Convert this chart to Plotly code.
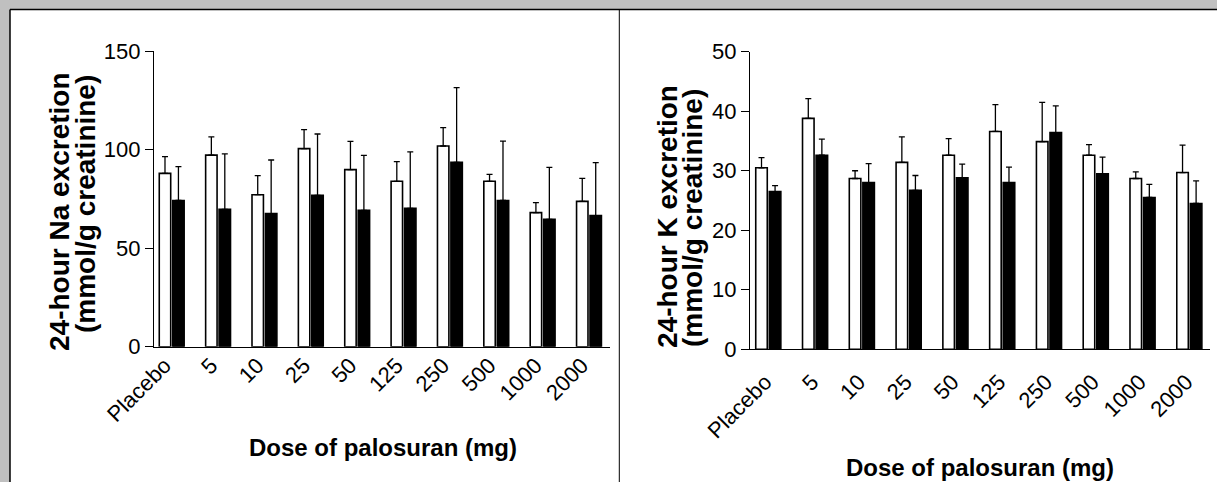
import plotly.graph_objects as go

doses = ["Placebo", "5", "10", "25", "50", "125", "250", "500", "1000", "2000"]

# Na excretion (mmol/g creatinine): open bars and filled bars, mean and upper error
na_open = [87.9, 97.2, 77.1, 100.5, 89.8, 83.9, 101.8, 83.9, 68.0, 73.7]
na_open_err_top = [96.4, 106.4, 86.8, 110.1, 104.2, 93.9, 111.1, 87.4, 73.1, 85.4]
na_filled = [74.2, 69.7, 67.5, 76.8, 69.2, 70.2, 93.5, 74.2, 64.6, 66.5]
na_filled_err_top = [91.3, 97.8, 94.7, 107.9, 97.1, 98.8, 131.4, 104.3, 91.0, 93.4]

# K excretion (mmol/g creatinine)
k_open = [30.5, 38.8, 28.7, 31.4, 32.6, 36.6, 34.9, 32.6, 28.7, 29.7]
k_open_err_top = [32.2, 42.1, 30.0, 35.7, 35.4, 41.1, 41.5, 34.4, 29.8, 34.3]
k_filled = [26.5, 32.6, 28.0, 26.7, 28.8, 28.0, 36.4, 29.5, 25.5, 24.5]
k_filled_err_top = [27.5, 35.3, 31.2, 29.2, 31.1, 30.6, 40.9, 32.3, 27.7, 28.3]

na_ticks = [0, 50, 100, 150]
k_ticks = [0, 10, 20, 30, 40, 50]

W, H = 1217, 482
FONT = "Liberation Sans, Arial, sans-serif"


def bar(vals, tops, fill, xa, ya):
    return go.Bar(
        x=doses, y=vals, xaxis=xa, yaxis=ya,
        marker=dict(color=fill, line=dict(color="black", width=1.6)),
        error_y=dict(type="data", symmetric=False,
                     array=[t - v for t, v in zip(tops, vals)],
                     arrayminus=[0] * len(vals),
                     color="black", thickness=1.3, width=3),
        showlegend=False,
    )


fig = go.Figure()
fig.add_trace(bar(na_open, na_open_err_top, "white", "x", "y"))
fig.add_trace(bar(na_filled, na_filled_err_top, "black", "x", "y"))
fig.add_trace(bar(k_open, k_open_err_top, "white", "x2", "y2"))
fig.add_trace(bar(k_filled, k_filled_err_top, "black", "x2", "y2"))

px = lambda v: v / W
py = lambda v: 1 - v / H

axis_common = dict(showgrid=False, zeroline=False, showline=True, automargin=False,
                   linecolor="black", linewidth=1.3,
                   tickfont=dict(family=FONT, size=22, color="black"))
yaxis_extra = dict(ticks="outside", ticklen=8, tickwidth=1.3, tickcolor="black")


def title_ann(text, x, y, angle=0, size=28):
    return dict(text=f"<b>{text}</b>", textangle=angle, xref="paper", yref="paper",
                x=px(x), y=py(y), xanchor="center", yanchor="middle", showarrow=False,
                font=dict(family=FONT, size=size, color="black"))


fig.update_layout(
    width=W, height=H,
    margin=dict(l=0, r=0, t=0, b=0, pad=0, autoexpand=False),
    paper_bgcolor="#C0C0C0",
    plot_bgcolor="rgba(0,0,0,0)",
    barmode="group", bargap=0.42, bargroupgap=0.15,
    font=dict(family=FONT, color="black"),
    xaxis=dict(domain=[px(154), px(610)], anchor="y", range=[-0.382, 9.453],
               ticks="", tickangle=-45, ticklabelshift=-7, ticklabelstandoff=-4,
               **axis_common),
    yaxis=dict(domain=[py(346.7), py(51)], anchor="x", range=[0, 150],
               tickvals=na_ticks, **yaxis_extra, **axis_common),
    xaxis2=dict(domain=[px(750), px(1210)], anchor="y2", range=[-0.391, 9.442],
                ticks="", tickangle=-45, ticklabelshift=-3, ticklabelstandoff=10,
                **axis_common),
    yaxis2=dict(domain=[py(349.3), py(51.7)], anchor="x2", range=[0, 50],
                tickvals=k_ticks, **yaxis_extra, **axis_common),
    shapes=[
        dict(type="rect", xref="paper", yref="paper", x0=px(10), x1=1.0,
             y0=0, y1=py(9.5), fillcolor="white", line=dict(width=0), layer="below"),
        dict(type="line", xref="paper", yref="paper", x0=px(10), x1=1.0,
             y0=py(9.5), y1=py(9.5), line=dict(color="black", width=1.5)),
        dict(type="line", xref="paper", yref="paper", x0=px(10), x1=px(10),
             y0=0, y1=py(9.5), line=dict(color="black", width=1.5)),
        dict(type="line", xref="paper", yref="paper", x0=px(619.3), x1=px(619.3),
             y0=0, y1=py(9.5), line=dict(color="black", width=1)),
    ],
    annotations=[
        title_ann("24-hour Na excretion", 59, 212, -90),
        title_ann("(mmol/g creatinine)", 85, 204, -90),
        title_ann("Dose of palosuran (mg)", 383, 447, 0, 24),
        title_ann("24-hour K excretion", 668, 217, -90),
        title_ann("(mmol/g creatinine)", 693, 218, -90),
        title_ann("Dose of palosuran (mg)", 980, 467, 0, 24),
    ],
)

fig.write_html(
    "out.html",
    config={"displayModeBar": False},
    post_script="document.body.style.margin='0';document.body.style.overflow='hidden';",
)
